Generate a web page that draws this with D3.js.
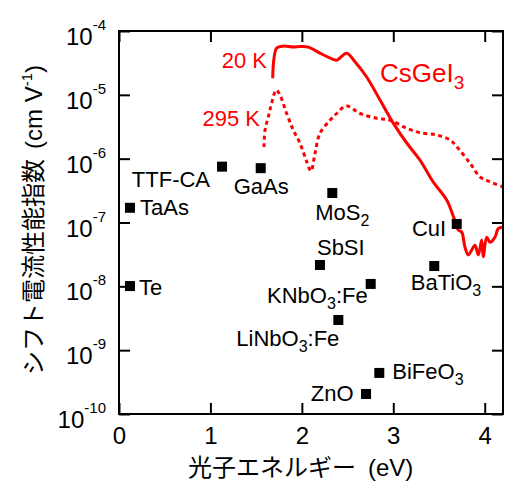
<!DOCTYPE html>
<html>
<head>
<meta charset="utf-8">
<script src="https://cdn.jsdelivr.net/npm/d3@7"></script>
<style>
  body { margin: 0; background: #fff; }
  svg { display: block; font-family: "Liberation Sans", Arial, "Noto Sans CJK JP", sans-serif; }
</style>
</head>
<body>
<svg id="chart" width="520" height="497"></svg>
<script>
// photon energy (eV) / shift current figure of merit (cm V^-1)
const energy20K = [1.681, 1.695, 1.725, 1.797, 1.906, 1.980, 2.070, 2.198, 2.344, 2.384, 2.490, 2.581, 2.709, 2.855, 3.000, 3.147, 3.292, 3.438, 3.584, 3.656, 3.711, 3.748, 3.784, 3.820, 3.857, 3.894, 3.930, 3.967, 3.984, 4.022, 4.058, 4.112, 4.148, 4.200]
const value20K = [1.82e-5, 3.7e-5, 5.4e-5, 5.8e-5, 5.6e-5, 5.7e-5, 5.6e-5, 4.5e-5, 3.6e-5, 3.5e-5, 4.5e-5, 3.3e-5, 1.9e-5, 8.3e-6, 3.6e-6, 1.76e-6, 9.5e-7, 4.3e-7, 2.25e-7, 1.26e-7, 7.6e-8, 7.1e-8, 4.1e-8, 3.1e-8, 3.7e-8, 4.4e-8, 3.1e-8, 5.3e-8, 2.9e-8, 5.9e-8, 4.9e-8, 5.9e-8, 8.0e-8, 8.5e-8]

const energy295K = [1.586, 1.597, 1.633, 1.670, 1.720, 1.761, 1.834, 1.906, 1.980, 2.053, 2.100, 2.144, 2.198, 2.308, 2.381, 2.488, 2.636, 2.818, 2.964, 3.147, 3.292, 3.475, 3.620, 3.694, 3.839, 3.948, 4.058, 4.203]
const value295K = [1.52e-6, 2.8e-6, 4.5e-6, 7.4e-6, 1.19e-5, 9.9e-6, 5.1e-6, 2.8e-6, 1.74e-6, 9.0e-7, 6.4e-7, 1.21e-6, 2.5e-6, 4.0e-6, 5.1e-6, 6.7e-6, 5.1e-6, 4.3e-6, 4.0e-6, 3.0e-6, 2.55e-6, 2.35e-6, 1.96e-6, 1.54e-6, 8.5e-7, 5.2e-7, 4.35e-7, 3.6e-7]

// other materials
const materials = ["TTF-CA", "GaAs", "TaAs", "Te", "MoS2", "SbSI", "KNbO3:Fe", "LiNbO3:Fe", "BaTiO3", "BiFeO3", "ZnO", "CuI"]
const materialEnergy = [1.127, 1.550, 0.120, 0.120, 2.333, 2.198, 2.753, 2.399, 3.448, 2.847, 2.702, 3.694]
const materialValue = [7.5e-7, 7.1e-7, 1.7e-7, 1.01e-8, 2.9e-7, 2.16e-8, 1.09e-8, 2.97e-9, 2.08e-8, 4.4e-10, 2.06e-10, 9.5e-8]

const xTicks = [0, 1, 2, 3, 4]
const yExponents = [-4, -5, -6, -7, -8, -9, -10]

// label placement next to each marker (anchor, dx, dy)
const labelLayout = {
    "TTF-CA": ["end", -12, 20],
    "GaAs": ["start", -27, 26],
    "TaAs": ["start", 10, 7.5],
    "Te": ["start", 9, 9],
    "MoS2": ["start", -17, 27],
    "SbSI": ["start", -3, -9.5],
    "KNbO3:Fe": ["end", -3, 19],
    "LiNbO3:Fe": ["end", 1, 26],
    "BaTiO3": ["start", -23.5, 24],
    "BiFeO3": ["start", 13, 6],
    "ZnO": ["end", -12.5, 7.5],
    "CuI": ["end", -10.5, 12.5]
}

const margin = { top: 31, right: 17, bottom: 83, left: 119 }
const width = 520, height = 497
const red = "#ff0000"

const svg = d3.select("#chart")

const x = d3.scaleLinear().domain([0, 4.2]).range([margin.left, width - margin.right])
const y = d3.scaleLog().domain([1e-10, 1e-4]).range([height - margin.bottom, margin.top])

// curves first so the axes and frame sit on top
const line = d3.line()
    .x(d => x(d[0]))
    .y(d => y(d[1]))
    .curve(d3.curveCatmullRom.alpha(0.5))

svg.append("path")
    .datum(d3.zip(energy295K, value295K))
    .attr("d", line)
    .attr("fill", "none")
    .attr("stroke", red)
    .attr("stroke-width", 3)
    .attr("stroke-dasharray", "4,3.5")

svg.append("path")
    .datum(d3.zip(energy20K, value20K))
    .attr("d", line)
    .attr("fill", "none")
    .attr("stroke", red)
    .attr("stroke-width", 3)
    .attr("stroke-linejoin", "round")

// axes, ticks pointing inward
const tickLen = 11
const bottomAxis = svg.append("g")
    .attr("transform", `translate(0,${y.range()[0]})`)
    .call(d3.axisBottom(x).tickValues(xTicks).tickSize(-tickLen).tickPadding(13).tickFormat(d3.format("d")))
const topAxis = svg.append("g")
    .attr("transform", `translate(0,${y.range()[1]})`)
    .call(d3.axisTop(x).tickValues(xTicks).tickSize(-tickLen).tickFormat(""))
const leftAxis = svg.append("g")
    .attr("transform", `translate(${x.range()[0]},0)`)
    .call(d3.axisLeft(y).tickValues(yExponents.map(e => Math.pow(10, e))).tickSize(-tickLen).tickFormat(""))
const rightAxis = svg.append("g")
    .attr("transform", `translate(${x.range()[1]},0)`)
    .call(d3.axisRight(y).tickValues(yExponents.map(e => Math.pow(10, e))).tickSize(-tickLen).tickFormat(""))

;[bottomAxis, topAxis, leftAxis, rightAxis].forEach(g => {
    g.select(".domain").remove()
    g.selectAll(".tick line").attr("stroke", "#000").attr("stroke-width", 2)
})
bottomAxis.selectAll(".tick text")
    .attr("font-size", 24)
    .attr("fill", "#000")
    .attr("font-family", "Liberation Sans, Arial, sans-serif")

svg.append("rect")
    .attr("x", x.range()[0])
    .attr("y", y.range()[1])
    .attr("width", x.range()[1] - x.range()[0])
    .attr("height", y.range()[0] - y.range()[1])
    .attr("fill", "none")
    .attr("stroke", "#000")
    .attr("stroke-width", 2)

// y tick labels 10^n
const yLabels = svg.append("g")
    .selectAll("text")
    .data(yExponents)
    .join("text")
    .attr("x", x.range()[0] - 13)
    .attr("y", e => y(Math.pow(10, e)) + 14)
    .attr("text-anchor", "end")
    .attr("fill", "#000")
yLabels.append("tspan").attr("font-size", 24).text("10")
yLabels.append("tspan").attr("font-size", 15).attr("dy", -15).text(e => e)

// axis titles
svg.append("text")
    .attr("x", 188)
    .attr("y", 476)
    .attr("font-size", 24)
    .attr("fill", "#000")
    .call(t => {
        t.append("tspan").text("光子エネルギー")
        t.append("tspan").attr("dx", 12).text("(eV)")
    })

svg.append("text")
    .attr("transform", "translate(42,220) rotate(-90)")
    .attr("text-anchor", "middle")
    .attr("font-size", 24)
    .attr("fill", "#000")
    .call(t => {
        t.append("tspan").text("シフト電流性能指数")
        t.append("tspan").attr("dx", 10).text("(cm V")
        t.append("tspan").attr("font-size", 15).attr("dy", -10).text("-1")
        t.append("tspan").attr("dy", 10).text(")")
    })

// material markers
const mat = materials.map((name, i) => ({ name, e: materialEnergy[i], v: materialValue[i] }))
const markerSize = 10
svg.append("g")
    .selectAll("rect")
    .data(mat)
    .join("rect")
    .attr("x", d => x(d.e) - markerSize / 2)
    .attr("y", d => y(d.v) - markerSize / 2)
    .attr("width", markerSize)
    .attr("height", markerSize)
    .attr("fill", "#000")

// digits in formulas are subscripts
function writeFormula(textSel, name, size, subSize, subShift) {
    const parts = name.match(/\d+|\D+/g)
    let shifted = false
    parts.forEach(p => {
        const isSub = /^\d+$/.test(p)
        const ts = textSel.append("tspan").text(p)
        if (isSub) {
            ts.attr("font-size", subSize).attr("dy", subShift)
            shifted = true
        } else {
            ts.attr("font-size", size)
            if (shifted) { ts.attr("dy", -subShift); shifted = false }
        }
    })
}

svg.append("g")
    .selectAll("text")
    .data(mat)
    .join("text")
    .attr("x", d => x(d.e) + labelLayout[d.name][1])
    .attr("y", d => y(d.v) + labelLayout[d.name][2])
    .attr("text-anchor", d => labelLayout[d.name][0])
    .attr("fill", "#000")
    .each(function (d) { writeFormula(d3.select(this), d.name, 22, 16, 6) })

// CsGeI3 labels
svg.append("text")
    .attr("x", 267).attr("y", 68)
    .attr("text-anchor", "end")
    .attr("font-size", 22)
    .attr("fill", red)
    .text("20 K")
svg.append("text")
    .attr("x", 260).attr("y", 126)
    .attr("text-anchor", "end")
    .attr("font-size", 22)
    .attr("fill", red)
    .text("295 K")
svg.append("text")
    .attr("x", 380).attr("y", 82)
    .attr("fill", red)
    .each(function () { writeFormula(d3.select(this), "CsGeI3", 26, 19, 7) })
</script>
</body>
</html>
